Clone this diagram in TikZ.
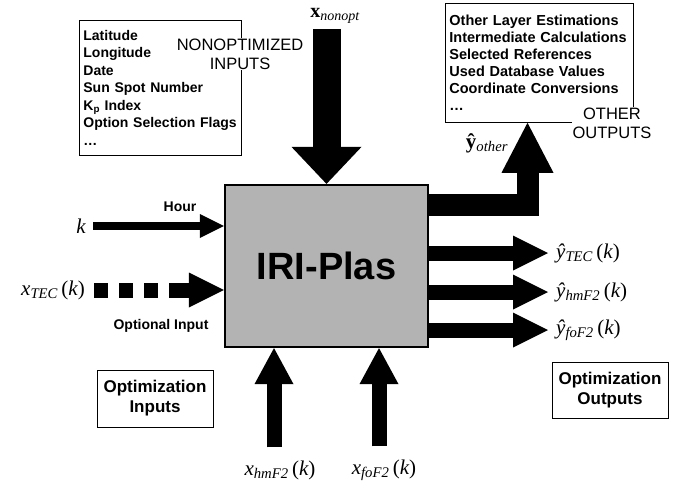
\documentclass[tikz,border=0pt]{standalone}
\usepackage{fontspec}
\setmainfont{Liberation Sans}
\newfontfamily\timesrm{Liberation Serif}
\usetikzlibrary{positioning,arrows.meta}
\definecolor{cblock}{RGB}{179,179,179}
\newcommand{\sig}[3]{{\timesrm\itshape #1\textsubscript{#2}\,\upshape(\itshape #3\upshape)}}

\begin{document}
\begin{tikzpicture}[x=1pt, y=-1pt,
  listbox/.style={draw, line width=0.8pt, anchor=north west, align=left, inner xsep=4pt,
                  font=\fontsize{14}{17.5}\selectfont\bfseries},
  capt/.style={fill=white, align=center, inner sep=1pt, font=\fontsize{16.5}{19}\selectfont},
  optbox/.style={draw, line width=0.8pt, align=center, minimum width=116pt, minimum height=57pt,
                 font=\fontsize{17}{20}\selectfont\bfseries},
  tag/.style={font=\fontsize{14}{16}\selectfont\bfseries},
  sigl/.style={font=\fontsize{21}{24}\selectfont, inner sep=1pt},
  fat/.style={line width=15pt, -{Triangle[length=35pt, width=35pt, line width=0pt]}},
  upfat/.style={line width=15pt, -{Triangle[length=36pt, width=39pt, line width=0pt]}}]
\useasboundingbox (0,0) rectangle (679,483);

% the model block
\node[draw, line width=2.2pt, fill=cblock, minimum width=203pt, minimum height=162pt,
      font=\fontsize{38}{40}\selectfont\bfseries] (iri) at (326.5,266) {IRI-Plas};

% nonoptimized inputs
\node[listbox, text width=154pt, minimum height=135pt] (nonopt) at (79,20)
  {Latitude\\Longitude\\Date\\Sun Spot Number\\K\textsubscript{p} Index\\Option Selection Flags\\\dots};
\node[capt] (nonoptcap) at (240,54) {NONOPTIMIZED\\INPUTS};
\node[sigl, font=\fontsize{20}{22}\selectfont] (xnonopt) at (335,16)
  {{\timesrm\bfseries x}{\timesrm\itshape\textsubscript{nonopt}}};
\draw[line width=28pt, shorten <=4pt, -{Triangle[length=37pt, width=70pt, line width=0pt]}]
  (iri.north |- xnonopt.south) -- (iri.north);

% other outputs
\node[listbox, text width=180pt, minimum height=119pt, font=\fontsize{14.5}{17}\selectfont\bfseries]
  (other) at (445,3)
  {Other Layer Estimations\\Intermediate Calculations\\Selected References\\Used Database Values\\Coordinate Conversions\\\dots};
\node[capt] (othercap) at (612,123) {OTHER\\OUTPUTS};
\coordinate (bend) at (527.5,205);
\draw[line width=22pt, line join=miter, -{Triangle[length=50pt, width=52pt, line width=0pt]}]
  (iri.east |- bend) -- (bend) -- (bend |- other.south);
\node[sigl] (yother) at (487,143) {{\timesrm\bfseries ŷ}{\timesrm\itshape\textsubscript{other}}};

% inputs on the left
\node[sigl, anchor=east] (k) at (87,226) {\timesrm\itshape k};
\draw[line width=8pt, shorten <=6pt, -{Triangle[length=24pt, width=24pt, line width=0pt]}]
  (k.east) -- (k.east -| iri.west);
\node[tag] (hour) at (180,207) {Hour};
\node[sigl, anchor=east] (xtec) at (86,290) {\sig{x}{TEC}{k}};
\draw[fat, shorten <=8pt, dash pattern=on 14pt off 11pt on 14pt off 11pt on 14pt off 11pt on 200pt]
  (xtec.east) -- (xtec.east -| iri.west);
\node[tag] (optin) at (161,326) {Optional Input};

% optimization outputs
\node[sigl, anchor=west] (ytec) at (555,253) {\sig{ŷ}{TEC}{k}};
\node[sigl, anchor=west] (yhm)  at (555,292) {\sig{ŷ}{hmF2}{k}};
\node[sigl, anchor=west] (yfo)  at (555,330) {\sig{ŷ}{foF2}{k}};
\draw[fat, shorten >=7pt] (iri.east |- ytec.west) -- (ytec.west);
\draw[fat, shorten >=7pt] (iri.east |- yhm.west) -- (yhm.west);
\draw[fat, shorten >=7pt] (iri.east |- yfo.west) -- (yfo.west);

% optimization inputs
\node[sigl] (xhm) at (280,470) {\sig{x}{hmF2}{k}};
\node[sigl] (xfo) at (384,470) {\sig{x}{foF2}{k}};
\draw[upfat, shorten <=12pt] ([xshift=-6pt]xhm.north) -- ([xshift=-6pt]xhm.north |- iri.south);
\draw[upfat, shorten <=12pt] ([xshift=-5pt]xfo.north) -- ([xshift=-5pt]xfo.north |- iri.south);

\node[optbox] (optinbox) at (155,398.5) {Optimization\\Inputs};
\node[optbox, minimum height=56pt] (optoutbox) at (610,390) {Optimization\\Outputs};
\end{tikzpicture}
\end{document}
